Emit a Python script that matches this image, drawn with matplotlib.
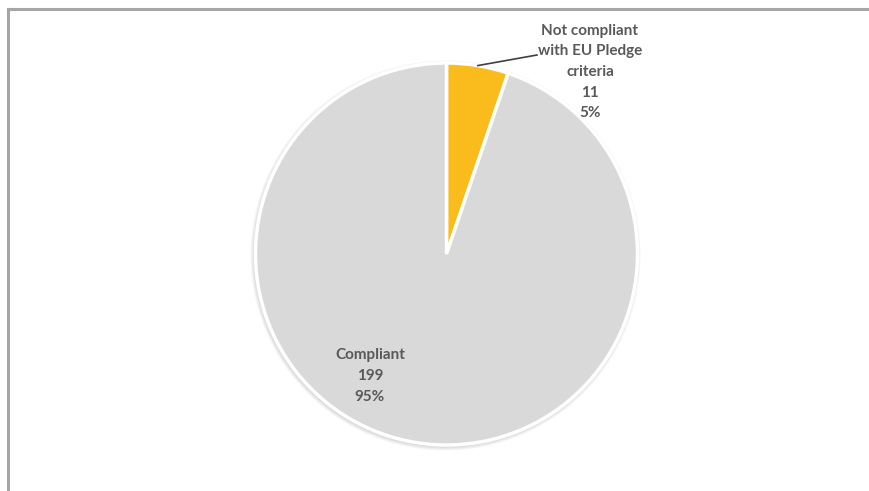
import numpy as np
import matplotlib
matplotlib.use("Agg")
import matplotlib.pyplot as plt
from matplotlib.lines import Line2D
from matplotlib.patches import Circle

labels = ["Not compliant\nwith EU Pledge\ncriteria", "Compliant"]
counts = [11, 199]
colors = ["#f9bc1c", "#d9d9d9"]

W, H = 870, 491
fig = plt.figure(figsize=(W / 100, H / 100), dpi=100)
ax = fig.add_axes([0, 0, 1, 1])

cx, cy, r = 446.5, H - 254, 191

# soft shadow under the pie
for k in range(5):
    ax.add_patch(Circle((cx - 1, cy - 1.5), r + 4 - k, color="#000000",
                        alpha=0.035, lw=0, zorder=1))

wedges, _ = ax.pie(counts, colors=colors, startangle=90, counterclock=False,
                   center=(cx, cy), radius=r, frame=True,
                   wedgeprops=dict(edgecolor="white", linewidth=2.5))
for w in wedges:
    w.set_zorder(2)
ax.set_xlim(0, W)
ax.set_ylim(0, H)
ax.set_aspect("equal")
ax.axis("off")

total = sum(counts)
txt = dict(color="#595959", fontweight="bold", fontsize=11, ha="center",
           va="center", linespacing=1.6, family=["Lato", "DejaVu Sans"])

# small slice: label outside with a leader line
frac = counts[0] / total
mid = np.deg2rad(90 - 360 * frac / 2)
edge = (cx + r * np.cos(mid), cy + r * np.sin(mid))
s0 = f"{labels[0]}\n{counts[0]}\n{counts[0] / total:.0%}"
ax.text(590, H - 72, s0, **txt, zorder=5)
ax.plot([edge[0], 537], [edge[1], H - 55], color="#404040", lw=1.2, zorder=4)

s1 = f"{labels[1]}\n{counts[1]}\n{counts[1] / total:.0%}"
ax.text(370, H - 376, s1, **txt, zorder=5)

# chart frame (top and left edges visible)
fig.add_artist(Line2D([8 / W, 1], [1 - 9 / H, 1 - 9 / H], transform=fig.transFigure,
                      color="#a6a6a6", lw=2.2))
fig.add_artist(Line2D([8 / W, 8 / W], [0, 1 - 9 / H], transform=fig.transFigure,
                      color="#a6a6a6", lw=2.2))

fig.savefig("out.png", dpi=100)
